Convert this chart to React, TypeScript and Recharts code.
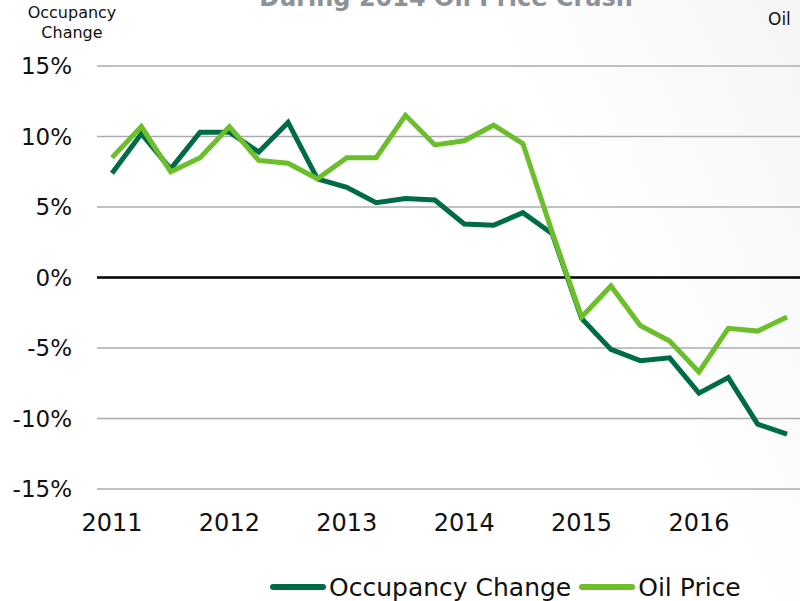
import React from "react"
import { LineChart, Line, XAxis, YAxis, CartesianGrid, ReferenceLine, Legend } from "recharts"

// quarterly points, 2011 Q1 .. 2016 Q4
const quarters = [
  "2011 Q1", "2011 Q2", "2011 Q3", "2011 Q4",
  "2012 Q1", "2012 Q2", "2012 Q3", "2012 Q4",
  "2013 Q1", "2013 Q2", "2013 Q3", "2013 Q4",
  "2014 Q1", "2014 Q2", "2014 Q3", "2014 Q4",
  "2015 Q1", "2015 Q2", "2015 Q3", "2015 Q4",
  "2016 Q1", "2016 Q2", "2016 Q3", "2016 Q4",
]

const occupancyChange = [
  7.4, 10.2, 7.7, 10.3, 10.3, 8.9, 11.0, 7.0,
  6.4, 5.3, 5.6, 5.5, 3.8, 3.7, 4.6, 3.1,
  -2.9, -5.1, -5.9, -5.7, -8.2, -7.1, -10.4, -11.1,
]

const oilPrice = [
  8.5, 10.7, 7.5, 8.5, 10.7, 8.3, 8.1, 7.0,
  8.5, 8.5, 11.5, 9.4, 9.7, 10.8, 9.5, 3.2,
  -2.8, -0.6, -3.4, -4.5, -6.7, -3.6, -3.8, -2.8,
]

const yTicks = [-15, -10, -5, 0, 5, 10, 15]

const DARK = "#006b47"
const LIGHT = "#6cbf2a"
const FONT = "'DejaVu Sans', sans-serif"

const data = quarters.map((q, i) => ({
  quarter: q,
  occupancy: occupancyChange[i],
  oil: oilPrice[i],
}))

const legendItems = [
  { name: "Occupancy Change", color: DARK },
  { name: "Oil Price", color: LIGHT },
]

function ChartLegend() {
  return (
    <div style={{ height: 30, display: "flex", alignItems: "center", paddingLeft: 270, fontFamily: FONT, fontSize: 25, color: "#111" }}>
      {legendItems.map((item) => (
        <div key={item.name} style={{ display: "flex", alignItems: "center", marginRight: 8 }}>
          <span style={{ display: "inline-block", width: 56, height: 6, borderRadius: 3, background: item.color, marginRight: 3 }} />
          <span>{item.name}</span>
        </div>
      ))}
    </div>
  )
}

export default function App() {
  return (
    <div
      style={{
        position: "absolute",
        left: 0,
        top: 0,
        width: 800,
        height: 601,
        overflow: "hidden",
        background: "linear-gradient(245deg, #f5f5f5 0%, #ffffff 30%)",
      }}
    >
      <div style={{ position: "absolute", left: 0, top: -17, width: 892, textAlign: "center", fontFamily: FONT, fontWeight: "bold", fontSize: 24, color: "#8c9298", lineHeight: "30px" }}>
        During 2014 Oil Price Crash
      </div>
      <div style={{ position: "absolute", left: 22, top: 3, width: 100, textAlign: "center", fontFamily: FONT, fontSize: 16, lineHeight: "20px", color: "#111" }}>
        Occupancy
        <br />
        Change
      </div>
      <div style={{ position: "absolute", left: 768, top: 9, fontFamily: FONT, fontSize: 17, lineHeight: "20px", color: "#111" }}>
        Oil
      </div>
      <LineChart width={800} height={601} data={data} margin={{ top: 66, right: 0, left: 0, bottom: 42 }}>
        <CartesianGrid horizontal vertical={false} stroke="#a9adb2" strokeWidth={1.5} />
        <XAxis
          dataKey="quarter"
          interval={3}
          height={40}
          tickLine={false}
          axisLine={false}
          tickSize={0}
          tickMargin={25}
          padding={{ left: 15, right: 13 }}
          tickFormatter={(v: string) => v.slice(0, 4)}
          tick={{ fontFamily: FONT, fontSize: 24, fill: "#111" }}
        />
        <YAxis
          domain={[-15, 15]}
          ticks={yTicks}
          width={97}
          tickLine={false}
          axisLine={false}
          tickSize={0}
          tickMargin={25}
          tickFormatter={(v: number) => `${v}%`}
          tick={{ fontFamily: FONT, fontSize: 23, fill: "#111" }}
        />
        <ReferenceLine y={0} stroke="#000" strokeWidth={2.5} />
        <Line type="linear" dataKey="occupancy" name="Occupancy Change" stroke={DARK} strokeWidth={5} dot={false} isAnimationActive={false} />
        <Line type="linear" dataKey="oil" name="Oil Price" stroke={LIGHT} strokeWidth={5} dot={false} isAnimationActive={false} />
        <Legend verticalAlign="bottom" content={<ChartLegend />} wrapperStyle={{ top: 572, left: 0, width: 800 }} />
      </LineChart>
    </div>
  )
}
